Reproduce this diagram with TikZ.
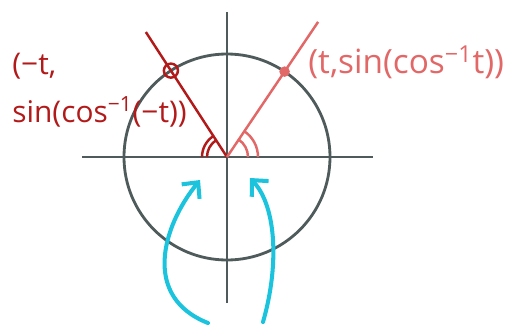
\documentclass[tikz,border=0pt]{standalone}
\usepackage{fontspec}
\setmainfont{Open Sans}
\usetikzlibrary{arrows.meta, positioning}
\definecolor{axisgray}{HTML}{4F5A5B}
\definecolor{darkred}{HTML}{B21A1A}
\definecolor{lightred}{HTML}{E26767}
\definecolor{skycyan}{HTML}{1BC3DD}
\tikzstyle{axis} = [axisgray, line width=1.6pt]
\tikzstyle{ray} = [line width=1.4pt]
\tikzstyle{pointer} = [skycyan, line width=2.3pt, line cap=round,
                       -{Straight Barb[length=2.4mm, width=4.6mm]}]
\tikzstyle{label} = [font=\fontsize{17}{27}\selectfont, inner sep=0pt]

\begin{document}
\begin{tikzpicture}[x={(0.02cm,0cm)}, y={(0cm,0.02cm)}, line join=round]
    % Frame
    \useasboundingbox (-227,-168) rectangle (290,157);
    \def\R{103}   % radius

    % Unit circle and axes
    \draw[axis] (0,0) circle (\R);
    \coordinate (xl) at (-145,0);
    \coordinate (xr) at (146,0);
    \coordinate (yt) at (0,145);
    \coordinate (yb) at (0,-146);
    \coordinate (O) at (0,0);
    \draw[axis] (xl) -- (xr);
    \draw[axis] (yt) -- (yb);

    % Rays through the two points
    \coordinate (endL) at (123:149);
    \coordinate (endR) at (56:163);
    \draw[ray, darkred] (O) -- (endL);
    \draw[ray, lightred] (O) -- (endR);
    \node[circle, draw=darkred, line width=1.4pt, minimum size=8pt,
          inner sep=0pt] (ptL) at (123:\R) {};
    \node[circle, fill=lightred, minimum size=6pt, inner sep=0pt]
          (ptR) at (56:\R) {};

    % Angle marks
    \draw[ray, darkred] (180:20) arc (180:123:20);
    \draw[ray, darkred] (180:25) arc (180:123:25);
    \draw[ray, lightred] (0:21) arc (0:56:21);
    \draw[ray, lightred] (0:31) arc (0:56:31);

    % Labels
    \node[label, darkred, align=left, anchor=north west] (labL)
      at (-215,104) {(−t,\\sin(cos\textsuperscript{−1}(−t))};
    \node[label, lightred, anchor=west, font=\fontsize{19}{24}\selectfont]
      (labR) at (81,95) {(t,sin(cos\textsuperscript{−1}t))};

    % Pointers to the angles
    \coordinate (startL) at (-19,-166);
    \coordinate (tipL) at (-27,-23);
    \coordinate (startR) at (36,-165);
    \coordinate (tipR) at (23,-21);
    \draw[pointer] (startL) .. controls (-85,-140) and (-65,-70) .. (tipL);
    \draw[pointer] (startR) .. controls (52,-110) and (50,-50) .. (tipR);
  \end{tikzpicture}
\end{document}
